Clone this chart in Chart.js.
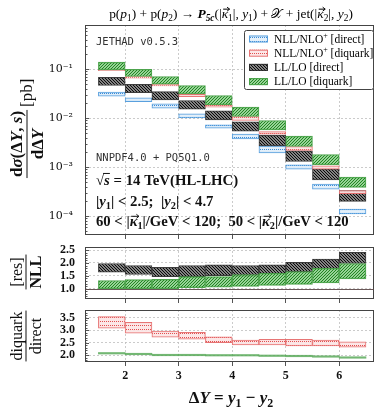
<!DOCTYPE html>
<html><head><meta charset="utf-8">
<script src="https://cdn.jsdelivr.net/npm/chart.js@4.4.1/dist/chart.umd.min.js"></script>
<style>
html,body{margin:0;padding:0;background:#fff;}
#wrap{position:relative;width:384px;height:410px;overflow:hidden;}
canvas{position:absolute;left:0;top:0;}
</style></head><body>
<div id="wrap">
<canvas id="c1" width="384" height="410"></canvas>
<canvas id="c2" width="384" height="410"></canvas>
<canvas id="c3" width="384" height="410"></canvas>
</div>
<script>
// ---------- DATA ----------
const bins = [1.75, 2.25, 2.75, 3.25, 3.75, 4.25, 4.75, 5.25, 5.75, 6.25];
const xTickValues = [2, 3, 4, 5, 6];
const mainTickValues = [1e-4, 1e-3, 1e-2, 1e-1];
const resTickValues = [1.0, 1.5, 2.0, 2.5];
const dqTickValues = [2.0, 2.5, 3.0, 3.5];

const nllDirectLo = [0.0281, 0.0218, 0.0160, 0.0101, 0.00624, 0.00378, 0.00195, 0.000908, 0.000355, 0.000111];
const nllDirectHi = [0.0339, 0.0260, 0.0196, 0.0123, 0.0073, 0.00471, 0.0027, 0.00111, 0.000449, 0.000139];
const nllDiquarkLo = [0.093, 0.0655, 0.0455, 0.0276, 0.0167, 0.00895, 0.00471, 0.00218, 0.000908, 0.000285];
const nllDiquarkHi = [0.101, 0.0708, 0.0493, 0.0308, 0.0187, 0.0108, 0.00533, 0.00264, 0.00106, 0.000333];
const llDirectLo = [0.0464, 0.0333, 0.0236, 0.0152, 0.00923, 0.00542, 0.00272, 0.0013, 0.00055, 0.000199];
const llDirectHi = [0.0686, 0.0493, 0.0349, 0.0229, 0.0141, 0.0084, 0.00449, 0.00215, 0.000923, 0.000333];
const llDiquarkLo = [0.0968, 0.0708, 0.0493, 0.0313, 0.0187, 0.0108, 0.00577, 0.00264, 0.00111, 0.000384];
const llDiquarkHi = [0.139, 0.0998, 0.0708, 0.0464, 0.029, 0.01675, 0.00895, 0.00429, 0.00181, 0.000624];

const resLLDirectLo = [1.64, 1.55, 1.47, 1.47, 1.51, 1.48, 1.58, 1.64, 1.77, 1.98];
const resLLDirectHi = [1.98, 1.90, 1.83, 1.90, 1.93, 1.90, 1.93, 2.02, 2.15, 2.41];
const resLLDiquarkLo = [1.0, 1.0, 1.0, 1.04, 1.06, 1.09, 1.13, 1.17, 1.22, 1.38];
const resLLDiquarkHi = [1.32, 1.35, 1.36, 1.47, 1.47, 1.55, 1.60, 1.67, 1.79, 1.98];

const dqNLLLo = [3.08, 2.88, 2.72, 2.64, 2.50, 2.41, 2.41, 2.37, 2.37, 2.32];
const dqNLLHi = [3.55, 3.32, 2.97, 2.92, 2.74, 2.61, 2.64, 2.64, 2.61, 2.54];
const dqLLLo = [2.05, 2.02, 1.98, 1.98, 1.97, 1.97, 1.95, 1.94, 1.92, 1.88];
const dqLLHi = [2.11, 2.08, 2.04, 2.04, 2.03, 2.03, 2.01, 2.00, 1.98, 1.94];

const legendLabels = [
  [['NLL/NLO'], ['+', '^'], [' [direct]']],
  [['NLL/NLO'], ['+', '^'], [' [diquark]']],
  [['LL/LO [direct]']],
  [['LL/LO [diquark]']]
];

// ---------- STYLE ----------
const SERIF = '"Liberation Serif", "DejaVu Serif", serif';
const MONO = '"DejaVu Sans Mono", "Liberation Mono", monospace';

function makePattern(w, h, bg, draw) {
  const c = document.createElement('canvas');
  c.width = w; c.height = h;
  const x = c.getContext('2d');
  x.fillStyle = bg; x.fillRect(0, 0, w, h);
  draw(x);
  return x.createPattern(c, 'repeat');
}
const patBlue = makePattern(2, 4, 'rgba(225,238,250,0.9)', x => { x.fillStyle = 'rgba(60,140,215,1)'; x.fillRect(0, 1, 1, 1); });
const patRed = makePattern(2, 4, 'rgba(252,228,228,0.9)', x => { x.fillStyle = 'rgba(225,80,80,1)'; x.fillRect(0, 1, 1, 1); });
const patBlack = makePattern(3, 3, 'rgba(120,120,120,0.92)', x => { x.fillStyle = '#0a0a0a'; x.fillRect(0, 0, 1, 1); x.fillRect(1, 1, 1, 1); x.fillRect(2, 2, 1, 1); });
const patGreen = makePattern(3, 3, 'rgba(125,200,125,0.8)', x => { x.fillStyle = 'rgba(30,130,30,0.95)'; x.fillRect(2, 0, 1, 1); x.fillRect(1, 1, 1, 1); x.fillRect(0, 2, 1, 1); });

const S = {
  blue: { bg: patBlue, border: 'rgba(80,155,220,0.95)' },
  red: { bg: patRed, border: 'rgba(230,110,110,0.95)' },
  black: { bg: patBlack, border: 'rgba(40,40,40,0.9)' },
  green: { bg: patGreen, border: 'rgba(70,160,70,0.95)' }
};

// ---------- RICH TEXT ----------
// style flags: i italic, b bold, n normal weight, _ subscript, ^ superscript, o overline, v vector arrow
function segFont(st, o) {
  const sz = (st.includes('_') || st.includes('^')) ? o.size * 0.7 : o.size;
  const it = st.includes('i') ? 'italic ' : '';
  const bold = st.includes('n') ? '' : ((st.includes('b') || o.bold) ? 'bold ' : '');
  return it + bold + sz + 'px ' + (o.fam || SERIF);
}
function rich(ctx, parts, x, y, o) {
  const segs = parts.map(p => {
    const t = p[0], st = p[1] || '';
    const font = segFont(st, o);
    ctx.font = font;
    const w = ctx.measureText(t).width;
    const dy = st.includes('_') ? o.size * 0.22 : (st.includes('^') ? -o.size * 0.4 : 0);
    return { t, font, w, dy, over: st.includes('o'), vec: st.includes('v') };
  });
  const total = segs.reduce((a, s) => a + s.w, 0);
  let cx = o.align === 'center' ? x - total / 2 : (o.align === 'right' ? x - total : x);
  ctx.textAlign = 'left';
  ctx.textBaseline = 'alphabetic';
  const col = o.color || '#111';
  ctx.fillStyle = col;
  for (const s of segs) {
    ctx.font = s.font;
    ctx.fillText(s.t, cx, y + s.dy);
    if (s.over) {
      ctx.save(); ctx.strokeStyle = col; ctx.lineWidth = 1;
      ctx.beginPath(); ctx.moveTo(cx - 1, y - o.size * 0.78); ctx.lineTo(cx + s.w, y - o.size * 0.78); ctx.stroke(); ctx.restore();
    }
    if (s.vec) {
      const ay = y - o.size * 0.66, x0 = cx + 1.5, x1 = cx + s.w + 1.5;
      ctx.save(); ctx.strokeStyle = col; ctx.lineWidth = 1;
      ctx.beginPath(); ctx.moveTo(x0, ay); ctx.lineTo(x1, ay);
      ctx.moveTo(x1 - 2.5, ay - 2); ctx.lineTo(x1, ay); ctx.lineTo(x1 - 2.5, ay + 2); ctx.stroke(); ctx.restore();
    }
    cx += s.w;
  }
  return total;
}
function measureRich(ctx, parts, o) {
  ctx.save();
  let total = 0;
  for (const p of parts) { ctx.font = segFont(p[1] || '', o); total += ctx.measureText(p[0]).width; }
  ctx.restore();
  return total;
}
// vertical fraction; (bx, cy) screen position of the fraction bar centre
function vfrac(ctx, bx, cy, num, den, o, extra) {
  ctx.save();
  ctx.translate(bx, cy);
  ctx.rotate(-Math.PI / 2);
  const wn = measureRich(ctx, num, o), wd = measureRich(ctx, den, o);
  const w = Math.max(wn, wd) + 2;
  rich(ctx, num, 0, -o.size * 0.28, Object.assign({}, o, { align: 'center' }));
  rich(ctx, den, 0, o.size * 0.92, Object.assign({}, o, { align: 'center' }));
  ctx.strokeStyle = '#111'; ctx.lineWidth = 1;
  ctx.beginPath(); ctx.moveTo(-w / 2, 0); ctx.lineTo(w / 2, 0); ctx.stroke();
  if (extra) rich(ctx, extra.parts, w / 2 + 3, extra.dy, Object.assign({}, o, { align: 'left' }));
  ctx.restore();
}

// ---------- CHART FACTORY ----------
const framePlugin = {
  id: 'frame',
  afterDraw(chart, args, opts) {
    const { ctx, chartArea: a } = chart;
    const ys = chart.scales.y;
    ctx.save();
    ctx.strokeStyle = '#555'; ctx.lineWidth = 1;
    ctx.beginPath();
    (opts.minor || []).forEach(v => { const p = Math.round(ys.getPixelForValue(v)) + 0.5; ctx.moveTo(a.left, p); ctx.lineTo(a.left + 2.5, p); });
    (opts.major || []).forEach(v => { const p = Math.round(ys.getPixelForValue(v)) + 0.5; ctx.moveTo(a.left, p); ctx.lineTo(a.left + 4, p); });
    ctx.stroke();
    ctx.strokeStyle = '#444';
    ctx.strokeRect(Math.round(a.left) + 0.5, Math.round(a.top) + 0.5, Math.round(a.right - a.left) - 1, Math.round(a.bottom - a.top) - 1);
    ctx.restore();
    if (opts.extra) opts.extra(chart);
  }
};

function band(label, lo, hi, st, order) {
  return {
    label,
    data: bins.map((x, i) => ({ x, y: [lo[i], hi[i]] })),
    backgroundColor: st.bg,
    borderColor: st.border,
    borderWidth: st.bw === undefined ? 1 : st.bw,
    borderSkipped: false,
    grouped: false,
    barPercentage: 1,
    categoryPercentage: 1,
    order
  };
}

function makeChart(id, cfg) {
  return new Chart(document.getElementById(id), {
    type: 'bar',
    data: { datasets: cfg.datasets },
    options: {
      responsive: false,
      animation: false,
      events: [],
      layout: { padding: { left: 0, right: 10, top: cfg.top, bottom: cfg.bottom } },
      plugins: { legend: { display: false }, tooltip: { enabled: false }, frame: cfg.frame },
      scales: {
        x: {
          type: 'linear', min: 1.25, max: 6.65, offset: false,
          afterBuildTicks: s => { s.ticks = xTickValues.map(v => ({ value: v })); },
          afterFit: s => { s.height = cfg.xHeight; },
          ticks: { display: !!cfg.xLabels, autoSkip: false, maxRotation: 0, padding: 3, color: '#111',
                   font: { family: SERIF, size: 12, weight: 'bold' }, callback: v => String(v) },
          grid: { color: 'rgba(190,190,190,0.8)', lineWidth: 1, offset: false, drawTicks: true, tickLength: 4, tickColor: '#555' },
          border: { display: false, dash: [2, 2] }
        },
        y: {
          type: cfg.yType, min: cfg.yMin, max: cfg.yMax,
          afterBuildTicks: s => { s.ticks = cfg.yTicks.map(v => ({ value: v })); },
          afterFit: s => { s.width = 85; },
          ticks: { autoSkip: false, padding: cfg.yPad, color: '#111', font: cfg.yFont, callback: cfg.yFmt },
          grid: { color: 'rgba(190,190,190,0.8)', lineWidth: 1, drawTicks: false },
          border: { display: false, dash: [2, 2] }
        }
      }
    },
    plugins: [framePlugin]
  });
}

const supMap = { '-': '⁻', '0': '⁰', '1': '¹', '2': '²', '3': '³', '4': '⁴', '5': '⁵', '6': '⁶' };
const minorLog = [];
for (let d = -5; d <= 0; d++) for (let m = 2; m <= 9; m++) minorLog.push(m * Math.pow(10, d));

// ---------- MAIN PANEL ----------
makeChart('c1', {
  top: 25, bottom: 410 - 235 - 6, xHeight: 6,
  yType: 'logarithmic', yMin: 4.1e-5, yMax: 0.8, yTicks: mainTickValues, yPad: 12,
  yFont: { family: '"DejaVu Serif", serif', size: 11 },
  yFmt: v => '10' + String(Math.round(Math.log10(v))).split('').map(c => supMap[c]).join(''),
  datasets: [
    band('NLL/NLO+ [direct]', nllDirectLo, nllDirectHi, S.blue, 3),
    band('LL/LO [direct]', llDirectLo, llDirectHi, S.black, 2),
    band('NLL/NLO+ [diquark]', nllDiquarkLo, nllDiquarkHi, S.red, 1),
    band('LL/LO [diquark]', llDiquarkLo, llDiquarkHi, S.green, 0)
  ],
  frame: {
    minor: minorLog.filter(v => v > 4.1e-5 && v < 0.8), major: mainTickValues,
    extra(chart) {
      const ctx = chart.ctx;
      // title
      rich(ctx, [['p('], ['p', 'i'], ['1', '_'], [') + p('], ['p', 'i'], ['2', '_'], [') → '], ['P', 'bi'], ['5c', '_bi'],
                 ['(|'], ['κ', 'iv'], ['1', '_'], ['|, '], ['y', 'i'], ['1', '_'], [') + '], ['𝒳'], [' + jet(|'],
                 ['κ', 'iv'], ['2', '_'], ['|, '], ['y', 'i'], ['2', '_'], [')']],
           231, 18, { size: 13.4, align: 'center', color: '#000' });
      // annotations
      rich(ctx, [['JETHAD v0.5.3']], 96, 45, { size: 10.5, fam: MONO, color: '#333' });
      rich(ctx, [['NNPDF4.0 + PQ5Q1.0']], 96, 161, { size: 10.5, fam: MONO, color: '#333' });
      rich(ctx, [['√'], ['s', 'io'], [' = 14 TeV(HL-LHC)']], 96, 185, { size: 14.8, bold: true });
      rich(ctx, [['|'], ['y', 'i'], ['1', '_'], ['| < 2.5;  |'], ['y', 'i'], ['2', '_'], ['| < 4.7']], 96, 206, { size: 14.8, bold: true });
      rich(ctx, [['60 < |'], ['κ', 'iv'], ['1', '_'], ['|/GeV < 120;  50 < |'], ['κ', 'iv'], ['2', '_'], ['|/GeV < 120']], 96, 226, { size: 14.7, bold: true });
      // legend
      ctx.save();
      ctx.fillStyle = '#fff'; ctx.strokeStyle = '#444'; ctx.lineWidth = 1;
      ctx.beginPath(); ctx.roundRect(244.5, 30.5, 129, 59, 2); ctx.fill(); ctx.stroke();
      const sw = [S.blue, S.red, S.black, S.green];
      for (let i = 0; i < 4; i++) {
        const yc = 38.5 + i * 14.2;
        ctx.fillStyle = sw[i].bg; ctx.fillRect(249, yc - 3, 19, 7);
        ctx.strokeStyle = sw[i].border; ctx.strokeRect(249.5, yc - 2.5, 18, 6);
        rich(ctx, legendLabels[i], 274, yc + 4, { size: 11.5, color: '#000' });
      }
      ctx.restore();
      // y title
      vfrac(ctx, 27, 144, [['d'], ['σ', 'i'], ['(Δ'], ['Y', 'i'], [', '], ['s', 'i'], [')']], [['dΔ'], ['Y', 'i']],
            { size: 17, bold: true }, { parts: [['[pb]', 'n']], dy: 5 });
    }
  }
});

// ---------- RATIO PANEL [res]/NLL ----------
makeChart('c2', {
  top: 247, bottom: 410 - 299 - 6, xHeight: 6,
  yType: 'linear', yMin: 0.6, yMax: 2.62, yTicks: resTickValues, yPad: 10,
  yFont: { family: SERIF, size: 12, weight: 'bold' },
  yFmt: v => v.toFixed(1),
  datasets: [
    band('LL/LO [direct]', resLLDirectLo, resLLDirectHi, S.black, 1),
    band('LL/LO [diquark]', resLLDiquarkLo, resLLDiquarkHi, S.green, 0)
  ],
  frame: {
    minor: [0.7, 0.8, 0.9, 1.1, 1.2, 1.3, 1.4, 1.6, 1.7, 1.8, 1.9, 2.1, 2.2, 2.3, 2.4], major: resTickValues,
    extra(chart) {
      const ctx = chart.ctx, a = chart.chartArea, p = Math.round(chart.scales.y.getPixelForValue(1)) + 0.5;
      ctx.save(); ctx.strokeStyle = 'rgba(90,70,70,0.9)'; ctx.lineWidth = 1;
      ctx.beginPath(); ctx.moveTo(a.left, p); ctx.lineTo(a.right, p); ctx.stroke(); ctx.restore();
      vfrac(ctx, 26, 272, [['[res]', 'n']], [['NLL', 'b']], { size: 16 });
    }
  }
});

// ---------- RATIO PANEL diquark/direct ----------
makeChart('c3', {
  top: 310, bottom: 0, xHeight: 48,
  yType: 'linear', yMin: 1.73, yMax: 3.81, yTicks: dqTickValues, yPad: 10, xLabels: true,
  yFont: { family: SERIF, size: 12, weight: 'bold' },
  yFmt: v => v.toFixed(1),
  datasets: [
    band('NLL/NLO+', dqNLLLo, dqNLLHi, S.red, 1),
    band('LL/LO', dqLLLo, dqLLHi, { bg: 'rgba(90,170,90,0.85)', border: 'rgba(70,150,70,0.9)', bw: 0 }, 0)
  ],
  frame: {
    minor: [1.8, 1.9, 2.1, 2.2, 2.3, 2.4, 2.6, 2.7, 2.8, 2.9, 3.1, 3.2, 3.3, 3.4, 3.6, 3.7, 3.8], major: dqTickValues,
    extra(chart) {
      const ctx = chart.ctx;
      vfrac(ctx, 26, 336, [['diquark', 'n']], [['direct', 'n']], { size: 16 });
      rich(ctx, [['Δ', 'b'], ['Y', 'bi'], [' = ', 'b'], ['y', 'bi'], ['1', '_b'], [' − ', 'b'], ['y', 'bi'], ['2', '_b']],
           231, 403, { size: 17, align: 'center', bold: true });
    }
  }
});
</script>
</body></html>
